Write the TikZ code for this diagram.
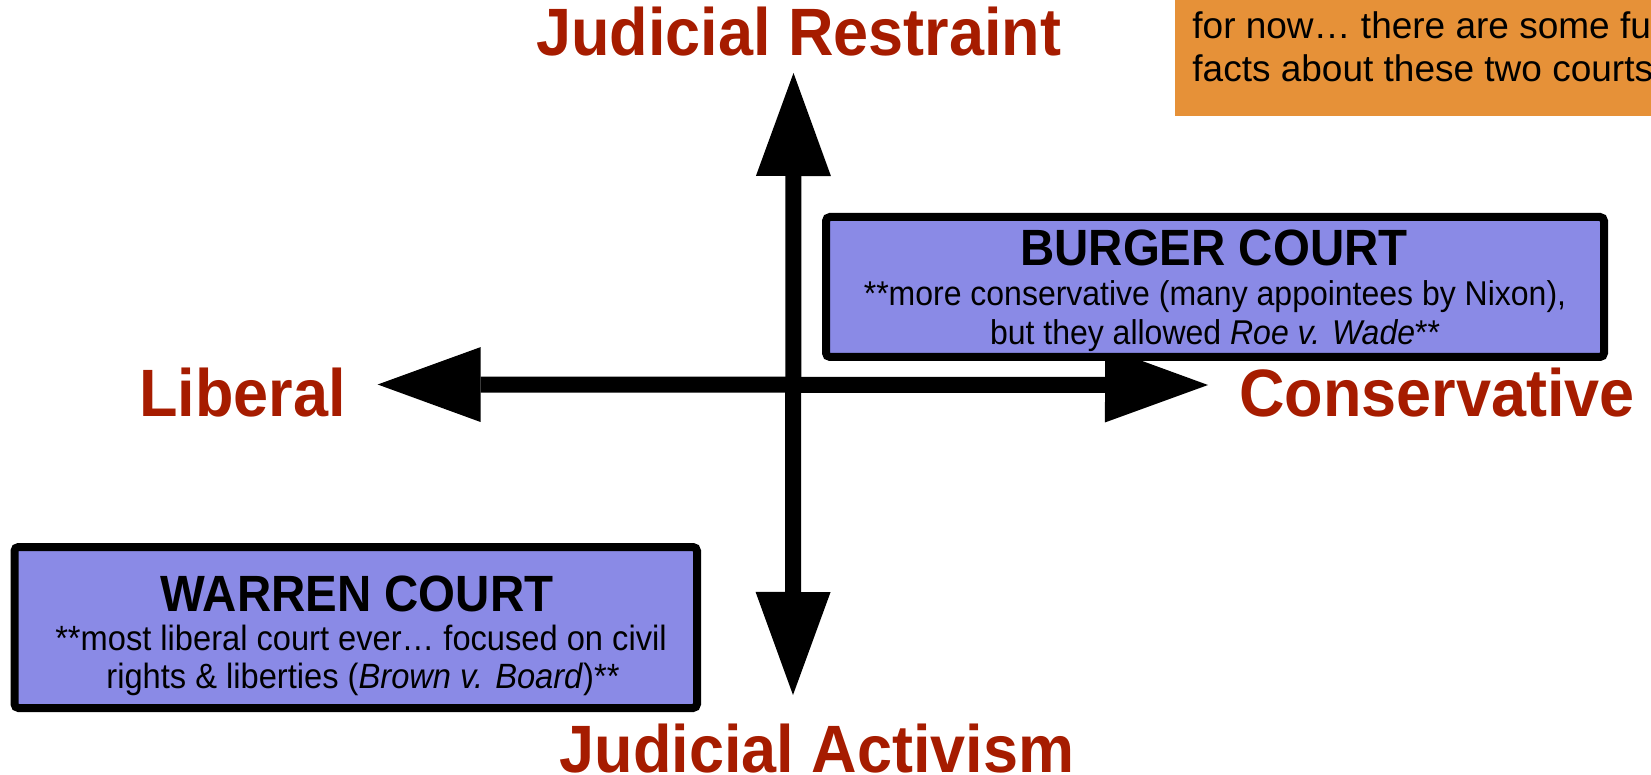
\documentclass[tikz,border=0pt]{standalone}
\usepackage{fontspec}
\setmainfont{Liberation Sans}[FakeStretch=0.93]
\newfontfamily\plainfont{Liberation Sans}
\newfontfamily\labelfont{Liberation Sans}[FakeStretch=0.94]
\usetikzlibrary{arrows.meta}
\definecolor{jred}{RGB}{166,28,0}
\definecolor{boxblue}{RGB}{138,138,230}
\definecolor{orangebg}{RGB}{230,145,56}
\tikzset{
  axislabel/.style={text=jred, font=\labelfont\fontsize{33.5}{40}\selectfont\bfseries, inner sep=0pt, anchor=base},
  axistip/.tip={Triangle[length=51.5pt,width=37.5pt,line width=0pt]},
  axisline/.style={line width=8pt, axistip-axistip},
  courtbox/.style={draw=black, line width=4pt, fill=boxblue, rounded corners=2pt, inner sep=0pt},
  courttitle/.style={font=\fontsize{25.5}{30}\selectfont\bfseries, inner sep=0pt, anchor=base},
  courtnote/.style={font=\fontsize{17.2}{21}\selectfont, inner sep=0pt, anchor=base},
  warrennote/.style={courtnote, font=\fontsize{17.55}{21}\selectfont},
  notetext/.style={font=\plainfont\fontsize{18.5}{22}\selectfont, inner sep=0pt, anchor=base west},
}
\begin{document}
\begin{tikzpicture}[x=0.5pt,y=-0.5pt]
\path[use as bounding box] (0,0) rectangle (1651,775);
\clip (0,0) rectangle (1651,775);
% note box (top right, cut off)
\fill[orangebg] (1175,-20) rectangle (1700,116);
\node[notetext] (note2) at (1192,39) {for now… there are some fun};
\node[notetext] (note3) at (1192,82) {facts about these two courts};
% axes
\coordinate (top) at (793.5,73);
\coordinate (bot) at (793,695);
\coordinate (lft) at (377.7,384.5);
\coordinate (rgt) at (1208,385);
\draw[axisline] (top) -- (bot);
\draw[axisline] (lft) -- (rgt);
% axis labels
\node[axislabel] (restraint) at (798.6,55.5) {Judicial Restraint};
\node[axislabel] (activism) at (816.9,772) {Judicial Activism};
\node[axislabel] (liberal) at (242.7,416.7) {Liberal};
\node[axislabel, anchor=base west] (conservative) at (1239,417) {Conservative};
% Burger court
\node[courtbox, minimum width=389pt, minimum height=70pt] (burger) at (1215,287) {};
\node[courttitle] (burgert) at (1214,266) {BURGER COURT};
\node[courtnote] (burger1) at (1215,305.5) {**more conservative (many appointees by Nixon),};
\node[courtnote] (burger2) at (1215,344.5) {but they allowed \textit{Roe v. Wade}**};
% Warren court
\node[courtbox, minimum width=341.25pt, minimum height=80.5pt] (warren) at (355.75,627.5) {};
\node[courttitle] (warrent) at (357,611) {WARREN COURT};
\node[warrennote] (warren1) at (361,650) {**most liberal court ever… focused on civil};
\node[warrennote] (warren2) at (363,688.5) {rights \& liberties (\textit{Brown v. Board})**};
\end{tikzpicture}
\end{document}
